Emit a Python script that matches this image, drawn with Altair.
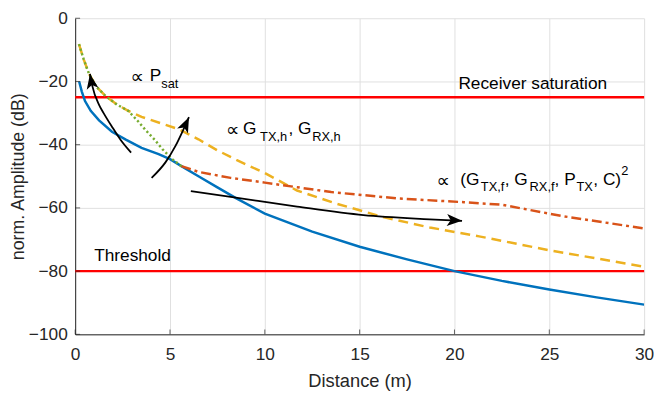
import altair as alt
import pandas as pd

# ---- data ----
blue_x = [0.21, 0.35, 0.52, 0.82, 1.26, 1.94, 2.67, 3.5, 4.4, 5.0, 5.6, 6.5, 7.5, 8.5, 10, 12.5, 15, 17.5, 20, 22.5, 25, 27.5, 30]
blue_y = [-20, -23.2, -26.2, -29.3, -32.3, -35.9, -38.4, -41, -43, -44.6, -46.8, -50, -53.5, -57, -61.8, -67.5, -72.3, -76.3, -80, -83.1, -85.8, -88.3, -90.6]

green_x = [0.2, 0.45, 0.73, 1.1, 1.6, 2.2, 2.8, 3.3, 3.7, 4.2, 4.6, 5.1, 5.6]
green_y = [-8.2, -13, -17.6, -21.5, -24.6, -27.3, -29.3, -32.5, -35.3, -38.5, -41.4, -44.5, -46.8]

yellow_x = [0.2, 0.45, 0.73, 1.1, 1.6, 2.2, 2.8, 3.5, 4.5, 5.5, 6.5, 7.5, 8.5, 10, 11.7, 13.8, 16.3, 18.7, 21.3, 25, 27.5, 30]
yellow_y = [-8.2, -13, -17.6, -21.5, -24.6, -27.3, -29.3, -31.2, -33.2, -35.2, -38.3, -41.8, -44.8, -49, -54.5, -58.7, -63, -66.2, -69, -73.4, -76, -78.6]

orange_x = [5.6, 6.5, 8.2, 10, 13.5, 17, 20.5, 22.5, 25.7, 30]
orange_y = [-46.8, -48.6, -50.5, -52, -55, -57, -58.2, -59, -62.6, -66.5]

limit_y = [-25, -80]

arrow1_x = [2.95, 2.4, 1.94, 1.5, 1.26, 0.9, 0.78]
arrow1_y = [-42.5, -38.5, -34.3, -30, -27.4, -21.3, -17.6]
arrow2_x = [4.03, 4.76, 5.29, 5.7, 6.0]
arrow2_y = [-50.5, -45.6, -40.4, -35.3, -31.3]
arrow3_x = [6.1, 8.2, 11.7, 15.2, 18.7, 20.4]
arrow3_y = [-54.7, -56.5, -59.6, -62.3, -63.6, -64.1]
arrow_angles = [350, 25, 93]

x_ticks = [0, 5, 10, 15, 20, 25, 30]
y_ticks = [-100, -80, -60, -40, -20, 0]

# proportional-to signs: x, y
prop_signs = [(2.92, -18.6), (7.95, -35.4), (19.05, -51.5)]

# annotation pieces: text, x, y, size (main text and sub/superscripts)
ann_pieces = [
    ("P", 3.93, -18.2, 17.5), ("sat", 4.54, -20.7, 13),
    ("G", 8.85, -35.0, 17.5), ("TX,h", 9.75, -37.5, 13),
    (", G", 11.25, -35.0, 17.5), ("RX,h", 12.50, -37.5, 13),
    ("(G", 20.30, -51.1, 17.5), ("TX,f", 21.39, -53.4, 13),
    (", G", 22.65, -51.1, 17.5), ("RX,f", 23.96, -53.4, 13),
    (", P", 25.28, -51.1, 17.5), ("TX", 26.43, -53.4, 13),
    (", C)", 27.32, -51.1, 17.5), ("2", 28.80, -48.2, 13),
    ("Threshold", 1.0, -75.1, 17.5),
]
right_labels = [("Receiver saturation", 28.05, -20.7, 17.5)]

FONT = "Liberation Sans"
xs = alt.Scale(domain=[0, 30], nice=False, zero=False)
ys = alt.Scale(domain=[-100, 0], nice=False, zero=False)

x_axis = alt.Axis(values=x_ticks, title="Distance (m)", grid=True, gridColor="#DFDFDF",
                  domainColor="#262626", labelColor="#262626", titleColor="#262626",
                  labelFont=FONT, titleFont=FONT, labelFontSize=17.5, titleFontSize=18.5,
                  titleFontWeight="normal", ticks=False, labelPadding=11, titlePadding=9,
                  labelFlush=False)
y_axis = alt.Axis(values=y_ticks, title="norm. Amplitude (dB)", grid=True, gridColor="#DFDFDF",
                  domainColor="#262626", labelColor="#262626", titleColor="#262626",
                  labelFont=FONT, titleFont=FONT, labelFontSize=17.5, titleFontSize=18,
                  titleFontWeight="normal", ticks=False, labelPadding=8, titlePadding=1,
                  labelFlush=False)


def X():
    return alt.X("x:Q", scale=xs, axis=x_axis)


def Y():
    return alt.Y("y:Q", scale=ys, axis=y_axis)


def curve(xv, yv, color, dash, width=2.5):
    df = pd.DataFrame({"x": xv, "y": yv, "i": range(len(xv))})
    kw = dict(color=color, strokeWidth=width, strokeCap="butt", clip=True)
    if dash:
        kw["strokeDash"] = dash
    return alt.Chart(df).mark_line(**kw).encode(x=X(), y=Y(), order="i:Q")


limits = alt.Chart(pd.DataFrame({"y": limit_y})).mark_rule(color="#FF0000", strokeWidth=2.5).encode(y=Y())

blue = curve(blue_x, blue_y, "#0072BD", None)
yellow = curve(yellow_x, yellow_y, "#EDB120", [10, 6])
orange = curve(orange_x, orange_y, "#D95319", [10, 4, 3, 4])
green = curve(green_x, green_y, "#77AC30", [2.2, 2.6])

arrow_rows = []
for k, (ax, ay) in enumerate([(arrow1_x, arrow1_y), (arrow2_x, arrow2_y), (arrow3_x, arrow3_y)]):
    for i, (a, b) in enumerate(zip(ax, ay)):
        arrow_rows.append({"x": a, "y": b, "a": k, "i": i})
arrow_df = pd.DataFrame(arrow_rows)
arrows = alt.Chart(arrow_df).mark_line(color="black", strokeWidth=1.8, interpolate="monotone").encode(
    x=X(), y=Y(), detail="a:N", order="i:Q")

heads_df = pd.DataFrame({
    "x": [arrow1_x[-1], arrow2_x[-1], arrow3_x[-1]],
    "y": [arrow1_y[-1], arrow2_y[-1], arrow3_y[-1]],
    "ang": arrow_angles,
})
heads = alt.Chart(heads_df).mark_point(
    shape="M0,0L1.1,2.8L0,2.1L-1.1,2.8Z", filled=True, color="black", opacity=1, size=120, strokeWidth=0
).encode(x=X(), y=Y(), angle=alt.Angle("ang:Q", scale=None))

xt = alt.Chart(pd.DataFrame({"x": x_ticks, "y": [-100] * len(x_ticks)})).mark_tick(
    orient="vertical", size=5, thickness=1, color="#262626", yOffset=-2.5).encode(x=X(), y=Y())
yt = alt.Chart(pd.DataFrame({"x": [0] * len(y_ticks), "y": y_ticks})).mark_tick(
    orient="horizontal", size=5, thickness=1, color="#262626", xOffset=2.5).encode(x=X(), y=Y())

prop_df = pd.DataFrame({"x": [p[0] for p in prop_signs], "y": [p[1] for p in prop_signs], "t": ["∝"] * 3})
props = alt.Chart(prop_df).mark_text(align="left", baseline="middle", font="DejaVu Sans", fontSize=19,
                                     color="black").encode(x=X(), y=Y(), text="t:N")

ann_df = pd.DataFrame(ann_pieces, columns=["t", "x", "y", "s"])
ann = alt.Chart(ann_df).mark_text(align="left", baseline="middle", font=FONT, color="black").encode(
    x=X(), y=Y(), text="t:N", size=alt.Size("s:Q", scale=None))
rl_df = pd.DataFrame(right_labels, columns=["t", "x", "y", "s"])
rl = alt.Chart(rl_df).mark_text(align="right", baseline="middle", font=FONT, color="black").encode(
    x=X(), y=Y(), text="t:N", size=alt.Size("s:Q", scale=None))

chart = alt.layer(limits, blue, yellow, orange, green, arrows, heads, xt, yt, props, ann, rl).properties(
    width=576, height=320,
    autosize=alt.AutoSizeParams(type="none"),
    padding={"left": 68, "top": 8, "right": 10, "bottom": 55},
    background="white",
).configure_view(stroke=None)

chart.save("out.html", embed_options={"renderer": "svg", "actions": False})
